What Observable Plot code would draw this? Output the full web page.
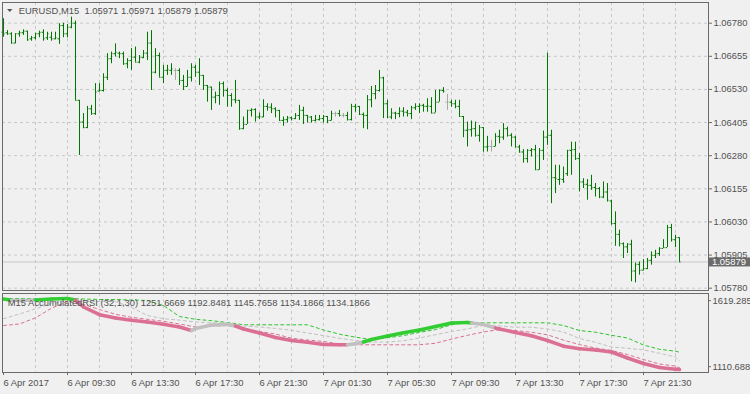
<!DOCTYPE html>
<html><head><meta charset="utf-8">
<script src="https://cdn.jsdelivr.net/npm/d3@7"></script>
<script src="https://cdn.jsdelivr.net/npm/@observablehq/plot@0.6"></script>
<style>
html,body{margin:0;padding:0;background:#f0f0f0;}
#wrap{position:relative;width:750px;height:394px;overflow:hidden;background:#f0f0f0;}
#main{position:absolute;left:0;top:0;z-index:2;}
#ind{position:absolute;left:0;top:291px;z-index:1;}
svg{display:block;overflow:visible;}
</style></head>
<body><div id="wrap"><div id="main"></div><div id="ind"></div></div>
<script>
// ---- EURUSD M15 bars (bar index 0 = 6 Apr 2017 05:30, 15 min each) ----
const open = [1.06746,1.06744,1.06740,1.06705,1.06740,1.06744,1.06750,1.06721,1.06725,1.06740,
1.06746,1.06725,1.06727,1.06721,1.06721,1.06771,1.06740,1.06765,1.06780,1.06489,
1.06407,1.06386,1.06457,1.06439,1.06524,1.06526,1.06576,1.06646,1.06665,1.06667,
1.06665,1.06627,1.06639,1.06652,1.06633,1.06650,1.06667,1.06705,1.06595,1.06658,
1.06576,1.06602,1.06602,1.06602,1.06602,1.06564,1.06541,1.06576,1.06614,1.06595,
1.06583,1.06545,1.06539,1.06501,1.06507,1.06552,1.06526,1.06507,1.06491,1.06489,
1.06382,1.06398,1.06451,1.06454,1.06426,1.06426,1.06466,1.06463,1.06457,1.06451,
1.06413,1.06416,1.06423,1.06420,1.06432,1.06451,1.06432,1.06426,1.06413,1.06416,
1.06420,1.06428,1.06413,1.06439,1.06439,1.06432,1.06432,1.06416,1.06466,1.06466,
1.06436,1.06432,1.06491,1.06514,1.06526,1.06574,1.06476,1.06426,1.06441,1.06439,
1.06448,1.06444,1.06439,1.06461,1.06466,1.06470,1.06466,1.06466,1.06441,1.06482,
1.06526,1.06482,1.06482,1.06476,1.06466,1.06428,1.06376,1.06378,1.06382,1.06357,
1.06386,1.06313,1.06315,1.06315,1.06353,1.06350,1.06382,1.06357,1.06350,1.06313,
1.06294,1.06269,1.06300,1.06303,1.06227,1.06300,1.06350,1.06357,1.06197,1.06190,
1.06190,1.06212,1.06300,1.06303,1.06269,1.06181,1.06172,1.06168,1.06160,1.06156,
1.06124,1.06143,1.06109,1.06024,1.05983,1.05948,1.05936,1.05946,1.05845,1.05870,
1.05848,1.05854,1.05885,1.05904,1.05911,1.05930,1.05933,1.06009,1.05963,1.05971];
const high = [1.06797,1.06752,1.06744,1.06740,1.06750,1.06755,1.06750,1.06730,1.06742,1.06750,
1.06755,1.06746,1.06746,1.06746,1.06778,1.06780,1.06775,1.06803,1.06788,1.06489,
1.06439,1.06466,1.06470,1.06552,1.06552,1.06589,1.06665,1.06671,1.06702,1.06671,
1.06671,1.06646,1.06684,1.06690,1.06658,1.06677,1.06746,1.06752,1.06684,1.06667,
1.06621,1.06621,1.06627,1.06608,1.06608,1.06583,1.06602,1.06627,1.06621,1.06646,
1.06583,1.06545,1.06539,1.06520,1.06558,1.06558,1.06533,1.06514,1.06564,1.06489,
1.06426,1.06451,1.06457,1.06457,1.06441,1.06491,1.06476,1.06476,1.06461,1.06451,
1.06426,1.06428,1.06426,1.06439,1.06470,1.06463,1.06432,1.06428,1.06432,1.06432,
1.06432,1.06428,1.06448,1.06444,1.06451,1.06439,1.06444,1.06474,1.06474,1.06466,
1.06441,1.06507,1.06541,1.06545,1.06602,1.06576,1.06489,1.06457,1.06444,1.06461,
1.06461,1.06451,1.06466,1.06476,1.06476,1.06474,1.06495,1.06499,1.06526,1.06529,
1.06537,1.06511,1.06489,1.06489,1.06489,1.06428,1.06407,1.06411,1.06407,1.06394,
1.06386,1.06353,1.06338,1.06363,1.06376,1.06401,1.06388,1.06363,1.06353,1.06319,
1.06303,1.06303,1.06307,1.06319,1.06307,1.06373,1.06667,1.06376,1.06244,1.06244,
1.06237,1.06300,1.06331,1.06331,1.06288,1.06193,1.06190,1.06206,1.06175,1.06160,
1.06181,1.06175,1.06112,1.06068,1.05999,1.05951,1.05948,1.05961,1.05875,1.05879,
1.05888,1.05892,1.05917,1.05923,1.05933,1.05963,1.06017,1.06021,1.05980,1.05971];
const low = [1.06727,1.06734,1.06702,1.06702,1.06727,1.06734,1.06712,1.06712,1.06717,1.06725,
1.06712,1.06715,1.06712,1.06717,1.06700,1.06725,1.06725,1.06759,1.06489,1.06281,
1.06382,1.06382,1.06432,1.06432,1.06520,1.06520,1.06564,1.06627,1.06652,1.06646,
1.06621,1.06608,1.06602,1.06633,1.06627,1.06646,1.06639,1.06526,1.06589,1.06576,
1.06552,1.06583,1.06583,1.06564,1.06545,1.06526,1.06539,1.06558,1.06576,1.06545,
1.06526,1.06482,1.06451,1.06476,1.06470,1.06501,1.06463,1.06463,1.06476,1.06376,
1.06378,1.06398,1.06426,1.06407,1.06416,1.06423,1.06448,1.06439,1.06423,1.06411,
1.06391,1.06403,1.06411,1.06416,1.06413,1.06398,1.06403,1.06403,1.06407,1.06411,
1.06403,1.06401,1.06411,1.06426,1.06426,1.06423,1.06411,1.06411,1.06444,1.06432,
1.06382,1.06378,1.06461,1.06491,1.06520,1.06420,1.06420,1.06416,1.06416,1.06423,
1.06426,1.06426,1.06416,1.06451,1.06439,1.06444,1.06444,1.06439,1.06441,1.06482,
1.06516,1.06451,1.06463,1.06457,1.06428,1.06348,1.06313,1.06350,1.06350,1.06331,
1.06293,1.06294,1.06294,1.06313,1.06325,1.06338,1.06350,1.06313,1.06310,1.06290,
1.06252,1.06252,1.06275,1.06225,1.06225,1.06262,1.06319,1.06099,1.06137,1.06168,
1.06177,1.06202,1.06206,1.06262,1.06143,1.06156,1.06112,1.06149,1.06124,1.06118,
1.06118,1.06105,1.06017,1.05938,1.05936,1.05892,1.05911,1.05804,1.05800,1.05829,
1.05845,1.05850,1.05867,1.05892,1.05900,1.05930,1.05933,1.05954,1.05933,1.05879];
const close = [1.06740,1.06740,1.06705,1.06740,1.06744,1.06750,1.06717,1.06725,1.06740,1.06744,
1.06721,1.06740,1.06721,1.06725,1.06771,1.06740,1.06765,1.06780,1.06489,1.06407,
1.06386,1.06457,1.06439,1.06520,1.06526,1.06576,1.06646,1.06665,1.06671,1.06665,
1.06627,1.06639,1.06652,1.06633,1.06650,1.06667,1.06705,1.06595,1.06658,1.06576,
1.06602,1.06604,1.06608,1.06602,1.06564,1.06541,1.06576,1.06614,1.06595,1.06583,
1.06545,1.06539,1.06501,1.06507,1.06552,1.06526,1.06507,1.06491,1.06489,1.06382,
1.06398,1.06451,1.06454,1.06426,1.06428,1.06466,1.06463,1.06457,1.06451,1.06413,
1.06416,1.06423,1.06420,1.06432,1.06451,1.06432,1.06426,1.06413,1.06416,1.06420,
1.06428,1.06413,1.06439,1.06439,1.06432,1.06432,1.06416,1.06466,1.06463,1.06436,
1.06432,1.06491,1.06514,1.06526,1.06574,1.06476,1.06426,1.06441,1.06439,1.06448,
1.06444,1.06439,1.06461,1.06466,1.06470,1.06466,1.06468,1.06441,1.06482,1.06526,
1.06524,1.06482,1.06476,1.06466,1.06428,1.06376,1.06378,1.06382,1.06357,1.06386,
1.06313,1.06315,1.06315,1.06353,1.06350,1.06382,1.06357,1.06350,1.06313,1.06294,
1.06269,1.06300,1.06303,1.06227,1.06300,1.06350,1.06357,1.06197,1.06195,1.06193,
1.06181,1.06300,1.06303,1.06269,1.06181,1.06172,1.06168,1.06160,1.06156,1.06124,
1.06143,1.06112,1.06024,1.05983,1.05948,1.05936,1.05946,1.05845,1.05870,1.05848,
1.05854,1.05885,1.05904,1.05911,1.05930,1.05933,1.06009,1.05963,1.05971,1.05879];

const priceTicks = [1.06780,1.06655,1.06530,1.06405,1.06280,1.06155,1.06030,1.05905,1.05780];
const timeTickBars = [0,16,32,48,64,80,96,112,128,144,160];
const timeTickLabels = ["6 Apr 2017","6 Apr 09:30","6 Apr 13:30","6 Apr 17:30","6 Apr 21:30","7 Apr 01:30","7 Apr 05:30","7 Apr 09:30","7 Apr 13:30","7 Apr 17:30","7 Apr 21:30"];
const gridBars = [8,16,24,32,40,48,56,64,72,80,88,96,104,112,120,128,136,144,152,160,168];

// ---- Accumulated RSI indicator ----
const mainBar = [0,2,4,8,12,16,18,20,24,28,32,36,40,44,47,48,52,56,58,60,64,68,72,76,80,84,86,88,90,92,96,100,104,108,112,116,117,120,123,124,128,132,136,140,144,148,152,156,160,164,168,169];
const mainVal = [1612.5,1603.5,1602.3,1605.7,1612.5,1615.9,1605.7,1558.3,1506.1,1483.7,1468.1,1456.6,1441.0,1422.7,1398.9,1412.5,1436.2,1439.6,1429.5,1409.1,1382.0,1351.5,1331.1,1319.6,1304.0,1302.0,1302.0,1308.8,1321.0,1337.9,1361.7,1383.3,1402.3,1426.1,1449.8,1453.2,1449.8,1439.6,1415.9,1409.1,1385.4,1363.0,1331.1,1292.5,1274.9,1266.7,1253.2,1212.5,1175.2,1148.1,1136.5,1134.1866];
const mainState = ["up","flat","flat","up","up","up","down","down","down","down","down","down","down","down","flat","flat","flat","flat","down","down","down","down","down","down","down","down","flat","flat","up","up","up","up","up","up","up","up","flat","flat","down","down","down","down","down","down","down","down","down","down","down","down","down","down"];
const bandBar = [0,4,8,12,16,20,24,28,32,36,40,44,48,52,56,60,64,68,72,76,80,84,88,92,96,100,104,108,112,116,120,124,128,132,136,140,144,148,152,156,160,164,168,169];
const upperBand = [1615.9,1615.9,1615.9,1615.9,1615.9,1612.5,1609.1,1609.1,1605.7,1602.3,1568.4,1493.9,1474.9,1465.4,1453.2,1437.6,1437.6,1437.6,1437.6,1437.6,1402.3,1373.9,1353.5,1337.9,1349.4,1364.4,1386.1,1405.0,1437.6,1455.2,1451.1,1451.1,1451.1,1451.1,1451.1,1432.8,1398.9,1387.4,1366.4,1348.1,1300.6,1271.5,1258.6,1251.6669];
const midBand = [1478.9,1510.8,1546.1,1582.0,1602.3,1598.9,1595.6,1595.6,1555.0,1500.6,1478.3,1469.5,1456.6,1451.1,1451.1,1429.5,1422.7,1412.5,1401.0,1382.0,1365.0,1346.1,1331.1,1319.6,1321.0,1329.1,1348.1,1370.5,1392.2,1409.8,1434.2,1429.5,1421.3,1421.3,1409.1,1388.8,1344.7,1318.9,1287.1,1278.3,1267.4,1244.4,1219.3,1192.8481];
const lowerBand = [1432.8,1443.0,1485.0,1550.1,1595.6,1575.2,1541.3,1508.8,1488.4,1474.9,1461.3,1443.0,1422.7,1429.5,1432.8,1413.9,1392.2,1375.2,1346.7,1334.5,1324.4,1307.4,1302.0,1302.0,1302.0,1302.0,1302.0,1312.8,1340.6,1366.4,1388.8,1405.7,1398.9,1386.7,1369.8,1333.8,1303.3,1280.3,1263.3,1236.2,1202.3,1171.8,1157.6,1145.7658];
const indMax = 1619.2853, indMin = 1110.6884;

const titleMain = "EURUSD,M15  1.05971 1.05971 1.05879 1.05879";
const titleInd = "M15 AccumulatedRSI (32,1,30) 1251.6669 1192.8481 1145.7658 1134.1866 1134.1866";

// ---- styles ----
const FONT = "'Liberation Sans', Arial, sans-serif";
const TXT = "#505050";
const GRID = "#c8c8c8";
const FRAME = "#6a6a6a";
const stateColor = {up: "#32cd32", down: "#db7093", flat: "#c0c0c0"};
const xDomain = [-0.25, 176.25];

const bars = open.map((o, i) => ({i, o, h: high[i], l: low[i], c: close[i]}));
const barColor = d => d.o === d.c ? "#a8a8a8" : "#007800";
const lastClose = close[close.length - 1];

const main = Plot.plot({
  width: 750, height: 291,
  marginLeft: 2, marginRight: 42, marginTop: 2, marginBottom: 1,
  style: {background: "transparent", fontFamily: FONT, fontSize: "9.4px", color: TXT, overflow: "visible"},
  x: {domain: xDomain, axis: null},
  y: {domain: [1.057713, 1.068581], axis: null},
  marks: [
    Plot.gridY(priceTicks, {stroke: GRID, strokeOpacity: 1, strokeDasharray: "3,3"}),
    Plot.gridX(gridBars, {stroke: GRID, strokeOpacity: 1, strokeDasharray: "3,3"}),
    Plot.ruleY([lastClose], {stroke: "#c8c8c8"}),
    Plot.ruleX(bars, {x: "i", y1: "l", y2: "h", stroke: barColor}),
    Plot.ruleY(bars, {x1: d => d.i - 0.375, x2: "i", y: "o", stroke: barColor}),
    Plot.ruleY(bars, {x1: "i", x2: d => d.i + 0.375, y: "c", stroke: barColor}),
    Plot.axisY(priceTicks, {anchor: "right", tickSize: 3, tickPadding: 2, tickFormat: d => d.toFixed(5), stroke: FRAME, fill: TXT}),
    Plot.frame({stroke: FRAME}),
    Plot.text([titleMain], {frameAnchor: "top-left", lineAnchor: "middle", textAnchor: "start", dx: 16.3, dy: 8.7, fill: TXT})
  ]
});
document.getElementById("main").appendChild(main);
{
  const svg = d3.select(main);
  const yc = main.scale("y").apply(lastClose) + 0.5;
  const g = svg.append("g");
  g.append("rect").attr("x", 708.5).attr("y", yc - 4.5).attr("width", 42).attr("height", 9).attr("fill", "#6b6b6b");
  g.append("text").attr("x", 712).attr("y", yc).attr("dy", "0.35em")
    .style("fill", "#ffffff").style("font-family", FONT).style("font-size", "9.4px")
    .attr("text-anchor", "start").text(lastClose.toFixed(5));
  g.append("path").attr("d", "M7,9 L12.5,9 L9.75,12 Z").attr("fill", "#555");
}

const segs = mainBar.slice(0, -1).map((b, k) => ({x1: b, x2: mainBar[k + 1], y1: mainVal[k], y2: mainVal[k + 1], s: mainState[k]}));
const bandRows = bandBar.map((b, k) => ({b, u: upperBand[k], m: midBand[k], l: lowerBand[k]}));

const ind = Plot.plot({
  width: 750, height: 103,
  marginLeft: 2, marginRight: 42, marginTop: 2, marginBottom: 22,
  style: {background: "transparent", fontFamily: FONT, fontSize: "9.4px", color: TXT, overflow: "visible"},
  x: {domain: xDomain, axis: null},
  y: {domain: [1114.18, 1649.80], axis: null},
  marks: [
    Plot.gridX(gridBars, {stroke: GRID, strokeOpacity: 1, strokeDasharray: "3,3"}),
    Plot.line(bandRows, {x: "b", y: "u", stroke: "#2ec42e", strokeWidth: 1, strokeDasharray: "3,3"}),
    Plot.line(bandRows, {x: "b", y: "m", stroke: "#c0c0c0", strokeWidth: 1, strokeDasharray: "3,3"}),
    Plot.line(bandRows, {x: "b", y: "l", stroke: "#db7093", strokeWidth: 1, strokeDasharray: "3,3"}),
    Plot.link(segs, {x1: "x1", y1: "y1", x2: "x2", y2: "y2", stroke: d => stateColor[d.s], strokeWidth: 3.5, strokeLinecap: "round"}),
    Plot.frame({stroke: FRAME}),
    Plot.axisX(timeTickBars, {anchor: "bottom", tickSize: 3, tickPadding: 4, textAnchor: "start", tickFormat: d => timeTickLabels[timeTickBars.indexOf(d)], stroke: FRAME, fill: TXT}),
    Plot.text([titleInd], {frameAnchor: "top-left", lineAnchor: "middle", textAnchor: "start", dx: 5.3, dy: 9.3, fill: TXT}),
    Plot.text([indMax.toFixed(4)], {frameAnchor: "top-right", lineAnchor: "middle", textAnchor: "start", dx: 4, dy: 7.7, fill: TXT}),
    Plot.text([indMin.toFixed(4)], {frameAnchor: "bottom-right", lineAnchor: "middle", textAnchor: "start", dx: 4, dy: -5.3, fill: TXT})
  ]
});
document.getElementById("ind").appendChild(ind);
{
  const svg = d3.select(ind);
  svg.append("path").attr("d", "M708.5,9.7 H711 M708.5,75.7 H711").attr("stroke", FRAME);
}
</script></body></html>
